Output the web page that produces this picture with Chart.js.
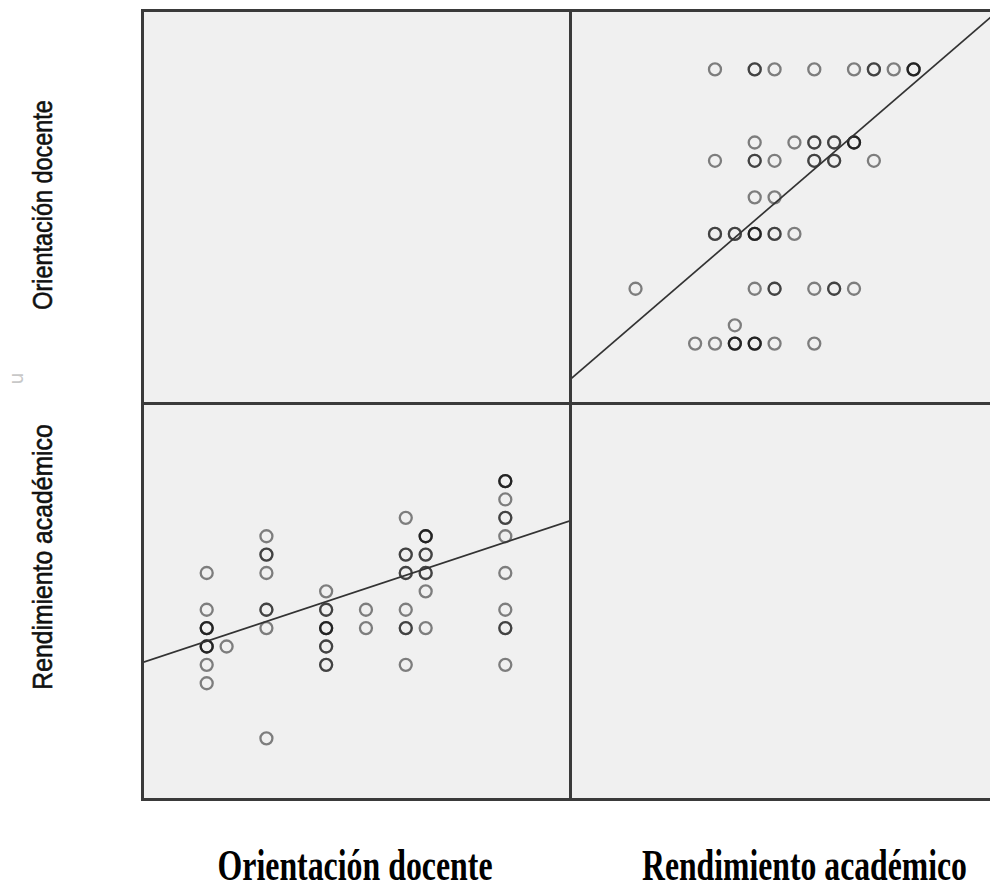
<!DOCTYPE html>
<html>
<head>
<meta charset="utf-8">
<script src="https://cdn.jsdelivr.net/npm/chart.js@4.4.1/dist/chart.umd.min.js"></script>
<style>
  html, body { margin: 0; padding: 0; background: #fff; }
  body { width: 990px; height: 893px; overflow: hidden; position: relative; }
  .cell { position: absolute; background: #f0f0f0; }
  .rule { position: absolute; background: #3a3a3a; z-index: 2; }
  .lbl { position: absolute; white-space: nowrap; line-height: 1; transform-origin: center center; }
  .side { font-family: "Liberation Sans", Arial, sans-serif; font-size: 28px; color: #111; -webkit-text-stroke: 0.6px #111; }
  .foot { font-family: "Liberation Serif", "Times New Roman", serif; font-weight: bold; font-size: 44px; color: #000; }
  .mark { font-family: "DejaVu Sans", sans-serif; font-size: 19px; color: #c8c8c8; }
</style>
</head>
<body>

<div class="cell" style="left:142px;top:10px;width:428px;height:393px"></div>
<div class="cell" style="left:570px;top:10px;width:428px;height:393px"><canvas id="topRight"></canvas></div>
<div class="cell" style="left:142px;top:403px;width:428px;height:396px"><canvas id="bottomLeft"></canvas></div>
<div class="cell" style="left:570px;top:403px;width:428px;height:396px"></div>

<div class="rule" style="left:141px;top:9px;width:860px;height:3px"></div>
<div class="rule" style="left:141px;top:798px;width:860px;height:3px"></div>
<div class="rule" style="left:141px;top:402px;width:860px;height:3px"></div>
<div class="rule" style="left:141px;top:9px;width:3px;height:792px"></div>
<div class="rule" style="left:569px;top:9px;width:3px;height:792px"></div>

<div id="sideOD" class="lbl side"></div>
<div id="sideRA" class="lbl side"></div>
<div id="footOD" class="lbl foot"></div>
<div id="footRA" class="lbl foot"></div>
<div id="mark" class="lbl mark">u</div>

<script>
// variable names
var variables = ["Orientación docente", "Rendimiento académico"];

// one entry per student (overlapping points repeated)
var orientacion = [
  30,30,30,30,30,30,30,30,30,30,
  31,
  33,33,33,33,33,33,33,33,
  36,36,36,36,36,36,36,36,36,36,
  38,38,
  40,40,40,40,40,40,40,40,40,
  41,41,41,41,41,41,41,41,41,
  45,45,45,45,45,45,45,45,45,45,45,45
];
var rendimiento = [
  19,17,16,16,16,15,15,15,14,13,
  15,
  21,20,20,19,17,17,16,10,
  18,17,17,16,16,16,15,15,14,14,
  17,16,
  22,20,20,19,19,17,16,16,14,
  21,21,21,20,20,19,19,18,16,
  24,24,24,23,22,22,21,19,17,16,16,14
];

// axis ranges [min, max]
var odRange = [26.75, 48.25];
var raRange = [6.7, 28.25];

// fitted lines [intercept, slope]
var fitRAonOD = [4.53, 0.3586];
var fitODonRA = [21.76, 0.936];

function fitPoints(fit, range) {
  return range.map(function (x) { return { x: x, y: fit[0] + fit[1] * x }; });
}

function scatterChart(canvasId, xs, ys, xRange, yRange, fit) {
  var pts = xs.map(function (x, i) { return { x: x, y: ys[i] }; });
  return new Chart(document.getElementById(canvasId), {
    type: 'scatter',
    data: {
      datasets: [
        {
          data: pts,
          order: 1,
          pointStyle: 'circle',
          pointRadius: 6,
          pointBorderWidth: 2.3,
          borderColor: 'rgba(0,0,0,0.48)',
          backgroundColor: 'rgba(0,0,0,0)'
        },
        {
          data: fitPoints(fit, xRange),
          order: 0,
          showLine: true,
          pointRadius: 0,
          borderColor: '#333333',
          borderWidth: 1.7
        }
      ]
    },
    options: {
      responsive: true,
      maintainAspectRatio: false,
      animation: false,
      events: [],
      layout: { padding: 0, autoPadding: false },
      plugins: { legend: { display: false }, tooltip: { enabled: false } },
      scales: {
        x: { type: 'linear', min: xRange[0], max: xRange[1], display: false },
        y: { type: 'linear', min: yRange[0], max: yRange[1], display: false }
      }
    }
  });
}

// top right: x = Rendimiento, y = Orientación
scatterChart('topRight', rendimiento, orientacion, raRange, odRange, fitODonRA);
// bottom left: x = Orientación, y = Rendimiento
scatterChart('bottomLeft', orientacion, rendimiento, odRange, raRange, fitRAonOD);

function placeLabel(id, text, cx, cy, len, angle) {
  var el = document.getElementById(id);
  if (text) el.textContent = text;
  var w = el.offsetWidth, h = el.offsetHeight;
  el.style.left = (cx - w / 2) + 'px';
  el.style.top = (cy - h / 2) + 'px';
  var sx = len ? len / w : 1;
  el.style.transform = 'rotate(' + angle + 'deg) scaleX(' + sx + ')';
}

placeLabel('sideOD', variables[0], 43, 205, 210, -90);
placeLabel('sideRA', variables[1], 43, 557, 265, -90);
placeLabel('footOD', variables[0], 355, 866, 275, 0);
placeLabel('footRA', variables[1], 804, 866, 325, 0);
placeLabel('mark', null, 16, 378, 0, -90);
</script>
</body>
</html>
